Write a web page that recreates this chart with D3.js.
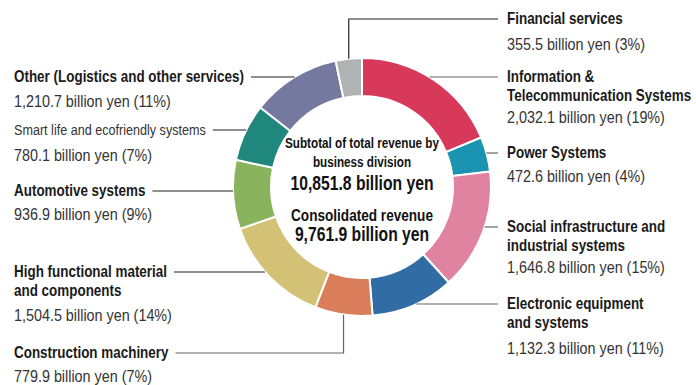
<!DOCTYPE html>
<html>
<head>
<meta charset="utf-8">
<script src="https://cdn.jsdelivr.net/npm/d3@7/dist/d3.min.js"></script>
<style>
  html, body { margin: 0; padding: 0; background: #fff; }
  svg { display: block; }
  text { font-family: "Liberation Sans", Arial, sans-serif; }
</style>
</head>
<body>
<svg id="chart" width="696" height="385"></svg>
<script>
// Revenue by business division (billion yen), clockwise from 12 o'clock
const divisions = [
  "Information & Telecommunication Systems",
  "Power Systems",
  "Social infrastructure and industrial systems",
  "Electronic equipment and systems",
  "Construction machinery",
  "High functional material and components",
  "Automotive systems",
  "Smart life and ecofriendly systems",
  "Other (Logistics and other services)",
  "Financial services"
];
const revenue = [2032.1, 472.6, 1646.8, 1132.3, 779.9, 1504.5, 936.9, 780.1, 1210.7, 355.5];
const shares = [19, 4, 15, 11, 7, 14, 9, 7, 11, 3];
const colors = ["#d8395a", "#1a94b1", "#e083a1", "#326ca5", "#d97d5b", "#d3c275", "#8ab35e", "#1f877b", "#76799f", "#b0b2b4"];

// Label text lines per division
const titleLines = [
  ["Information &", "Telecommunication Systems"],
  ["Power Systems"],
  ["Social infrastructure and", "industrial systems"],
  ["Electronic equipment", "and systems"],
  ["Construction machinery"],
  ["High functional material", "and components"],
  ["Automotive systems"],
  ["Smart life and ecofriendly systems"],
  ["Other (Logistics and other services)"],
  ["Financial services"]
];
const boldTitle = [true, true, true, true, true, true, true, false, true, true];

// Label placement: side, first title line y, value line y, leader style
const labelLayout = [
  { side: "right", y: 77,  vy: 117, lead: "h" },
  { side: "right", y: 153, vy: 176, lead: "h" },
  { side: "right", y: 227, vy: 267, lead: "h" },
  { side: "right", y: 304, vy: 348, lead: "h" },
  { side: "left",  y: 353, vy: 376, lead: "v" },
  { side: "left",  y: 272, vy: 315, lead: "h" },
  { side: "left",  y: 191, vy: 214, lead: "h" },
  { side: "left",  y: 130, vy: 155, lead: "h" },
  { side: "left",  y: 77,  vy: 101, lead: "h" },
  { side: "right", y: 19,  vy: 44,  lead: "v" }
];

const centerLines = [
  { text: "Subtotal of total revenue by", size: 15.5, sx: 0.755, y: 143 },
  { text: "business division", size: 15.5, sx: 0.755, y: 162 },
  { text: "10,851.8 billion yen", size: 19.5, sx: 0.805, y: 183 },
  { text: "Consolidated revenue", size: 17, sx: 0.80, y: 215 },
  { text: "9,761.9 billion yen", size: 19.5, sx: 0.805, y: 234 }
];

// Condensed type: horizontal squeeze applied to each text style
const styles = {
  title:  { size: 16,   weight: "bold",   fill: "#1a1a1a", sx: 0.84 },
  light:  { size: 15,   weight: "normal", fill: "#333",    sx: 0.84 },
  value:  { size: 16.5, weight: "normal", fill: "#333",    sx: 0.87 },
  center: { weight: "bold", fill: "#111" }
};

const fmt = d3.format(",.1f");
const svg = d3.select("#chart");
const cx = 362, cy = 187, R = 129, r = 91;

const pie = d3.pie().sort(null).value(d => d);
const arcs = pie(revenue);
const arc = d3.arc().innerRadius(r).outerRadius(R);

const g = svg.append("g").attr("transform", `translate(${cx},${cy})`);
g.selectAll("path").data(arcs).join("path")
  .attr("d", arc)
  .attr("fill", (d, i) => colors[i])
  .attr("stroke", "#fff")
  .attr("stroke-width", 2);

// Draws a squeezed text line; returns its drawn width
function addText(parent, x, y, str, st, size, anchor, sx) {
  const k = sx || st.sx;
  const t = parent.append("text")
    .attr("transform", `translate(${x},${y}) scale(${k},1)`)
    .attr("dominant-baseline", "central")
    .attr("text-anchor", anchor || "start")
    .attr("font-size", size || st.size)
    .attr("font-weight", st.weight)
    .attr("fill", st.fill)
    .text(str);
  return t.node().getComputedTextLength() * k;
}

// Center text
centerLines.forEach(d => addText(svg, cx, d.y, d.text, styles.center, d.size, "middle", d.sx));

const rightX = 507, leftX = 14;
const lines = svg.append("g");
const labels = svg.append("g");

arcs.forEach((a, i) => {
  const L = labelLayout[i];
  const x = L.side === "right" ? rightX : leftX;
  const st = boldTitle[i] ? styles.title : styles.light;
  let firstEnd = 0;
  titleLines[i].forEach((s, k) => {
    const w = addText(labels, x, L.y + k * 18.5, s, st);
    if (k === 0) firstEnd = w;
  });
  addText(labels, x, L.vy, `${fmt(revenue[i])} billion yen (${shares[i]}%)`, styles.value);

  const stroke = L.side === "right" ? "#666" : "#222";
  if (L.lead === "h") {
    const dy = L.y - cy;
    const dx = Math.sqrt(R * R - dy * dy);
    if (L.side === "right") {
      lines.append("line")
        .attr("x1", cx + dx).attr("y1", L.y)
        .attr("x2", rightX - 9).attr("y2", L.y)
        .attr("stroke", stroke).attr("stroke-width", 1.2);
    } else {
      lines.append("line")
        .attr("x1", leftX + firstEnd + 7).attr("y1", L.y)
        .attr("x2", cx - dx).attr("y2", L.y)
        .attr("stroke", stroke).attr("stroke-width", 1.2);
    }
  } else {
    const mid = (a.startAngle + a.endAngle) / 2;
    const vx = cx + R * Math.sin(mid);
    const vy = cy - R * Math.cos(mid);
    const hx = L.side === "right" ? rightX - 9 : leftX + firstEnd + 7;
    lines.append("polyline")
      .attr("points", [[hx, L.y], [vx, L.y], [vx, vy]].map(p => p.join(",")).join(" "))
      .attr("fill", "none")
      .attr("stroke", L.side === "right" ? "#222" : "#666").attr("stroke-width", 1.2);
  }
});
</script>
</body>
</html>
